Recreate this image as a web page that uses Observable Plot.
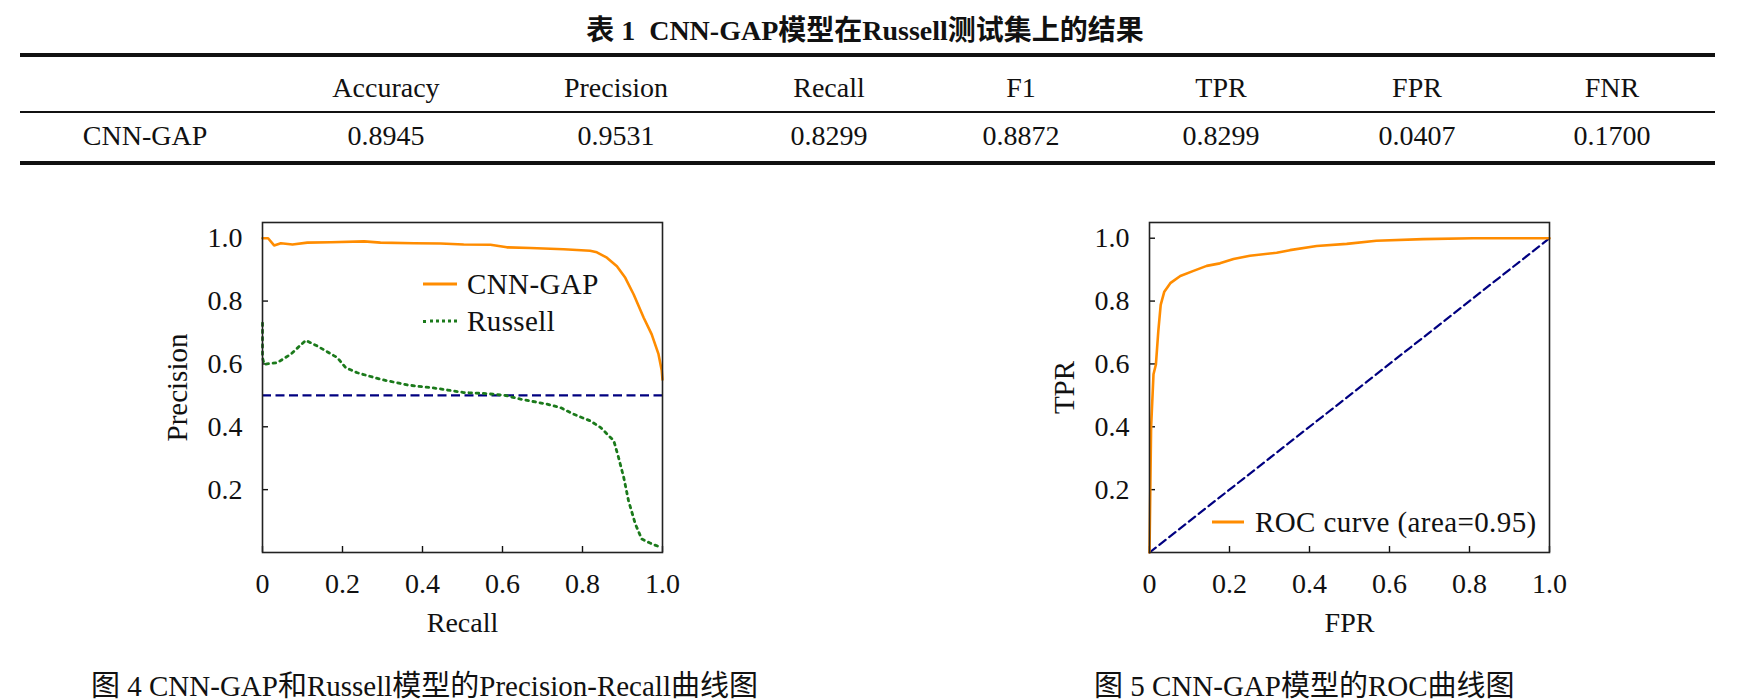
<!DOCTYPE html>
<html>
<head>
<meta charset="utf-8">
<script src="https://cdn.jsdelivr.net/npm/d3@7"></script>
<script src="https://cdn.jsdelivr.net/npm/@observablehq/plot@0.6"></script>
<style>
  html, body { margin: 0; padding: 0; background: #fff; }
  body { width: 1737px; height: 699px; position: relative; overflow: hidden;
         font-family: 'Liberation Serif', 'Noto Sans CJK SC', serif; color: #111; }
  .abs { position: absolute; white-space: pre; }
  .c { transform: translate(-50%, -50%); }
  .l { transform: translate(0, -50%); }
  .rule { position: absolute; background: #111; }
  .cell { font-size: 28px; }
</style>
</head>
<body>
<div id="page"></div>
<script>
// ---------------- data ----------------
const tableTitle = "表 1  CNN-GAP模型在Russell测试集上的结果";
const metricNames = ["Accuracy", "Precision", "Recall", "F1", "TPR", "FPR", "FNR"];
const modelName = "CNN-GAP";
const metricValues = ["0.8945", "0.9531", "0.8299", "0.8872", "0.8299", "0.0407", "0.1700"];

const caption4 = "图 4 CNN-GAP和Russell模型的Precision-Recall曲线图";
const caption5 = "图 5 CNN-GAP模型的ROC曲线图";

const seriesNames = ["CNN-GAP", "Russell"];
const rocLegend = "ROC curve (area=0.95)";

// Precision-Recall: CNN-GAP
const recallCNN = [0, 0.014, 0.029, 0.046, 0.075, 0.112, 0.171, 0.254, 0.295, 0.379, 0.445, 0.503, 0.570, 0.611, 0.670, 0.753, 0.819, 0.836, 0.861, 0.886, 0.907, 0.928, 0.953, 0.973, 0.990, 0.998, 1.0];
const precCNN   = [1.0, 1.0, 0.977, 0.984, 0.980, 0.986, 0.987, 0.990, 0.986, 0.984, 0.983, 0.980, 0.979, 0.971, 0.969, 0.965, 0.960, 0.955, 0.938, 0.911, 0.874, 0.821, 0.747, 0.694, 0.631, 0.580, 0.55];
// Precision-Recall: Russell
const recallRus = [0, 0, 0.004, 0.037, 0.071, 0.108, 0.137, 0.187, 0.208, 0.237, 0.295, 0.362, 0.437, 0.503, 0.553, 0.603, 0.645, 0.711, 0.745, 0.778, 0.819, 0.845, 0.878, 0.890, 0.903, 0.915, 0.932, 0.948, 0.969, 0.994];
const precRus   = [0.73, 0.62, 0.599, 0.604, 0.631, 0.675, 0.657, 0.620, 0.588, 0.572, 0.551, 0.533, 0.522, 0.509, 0.506, 0.501, 0.488, 0.472, 0.461, 0.440, 0.419, 0.398, 0.356, 0.303, 0.239, 0.165, 0.091, 0.043, 0.030, 0.017];
const baseline = 0.5;

// ROC
const fpr = [0, 0.002, 0.004, 0.010, 0.016, 0.022, 0.028, 0.037, 0.052, 0.077, 0.110, 0.143, 0.176, 0.210, 0.251, 0.318, 0.351, 0.418, 0.493, 0.567, 0.684, 0.809, 1.0];
const tpr = [0, 0.197, 0.398, 0.567, 0.598, 0.704, 0.788, 0.830, 0.857, 0.880, 0.896, 0.912, 0.920, 0.934, 0.944, 0.954, 0.962, 0.975, 0.982, 0.992, 0.997, 1.0, 1.0];
const chanceX = [0, 1];
const chanceY = [0, 1];

const xTicks = [0, 0.2, 0.4, 0.6, 0.8, 1.0];
const yTicks = [0.2, 0.4, 0.6, 0.8, 1.0];

// ---------------- style / layout ----------------
const FONT = "'Liberation Serif', 'Noto Sans CJK SC', serif";
const ORANGE = "#ff8c00";
const GREEN = "#1b7a1b";
const NAVY = "#000080";
const colX = [145, 386, 616, 829, 1021, 1221, 1417, 1612];

const page = document.getElementById("page");
function addText(txt, x, y, cls, extra) {
  const d = document.createElement("div");
  d.className = "abs " + cls;
  d.style.left = x + "px"; d.style.top = y + "px";
  if (extra) Object.assign(d.style, extra);
  d.textContent = txt;
  page.appendChild(d);
  return d;
}
function addRule(x, y, w, h) {
  const d = document.createElement("div");
  d.className = "rule";
  d.style.left = x + "px"; d.style.top = y + "px";
  d.style.width = w + "px"; d.style.height = h + "px";
  page.appendChild(d);
}

// Table
addText(tableTitle, 865, 28, "c", {fontSize: "28px", fontWeight: "bold"});
addRule(20, 53, 1695, 3.5);
addRule(20, 111, 1695, 1.6);
addRule(20, 161, 1695, 3.5);
metricNames.forEach((m, i) => addText(m, colX[i + 1], 88, "c cell"));
addText(modelName, colX[0], 136, "c cell");
metricValues.forEach((v, i) => addText(v, colX[i + 1], 136, "c cell"));

// Captions
addText(caption4, 91, 683, "l", {fontSize: "29px"});
addText(caption5, 1094, 683, "l", {fontSize: "29px"});

const fmt = d => d === 0 ? "0" : d.toFixed(1);

function basePlot(marks, xLabel, yLabel) {
  return Plot.plot({
    width: 563, height: 456,
    marginLeft: 122, marginRight: 41, marginTop: 26, marginBottom: 100,
    style: {fontFamily: FONT, fontSize: "28px", color: "#111", background: "transparent", overflow: "visible"},
    x: {domain: [0, 1]},
    y: {domain: [0, 1.05]},
    marks: [
      Plot.axisX(xTicks, {tickSize: -6, tickPadding: 27, tickFormat: fmt, label: null, strokeWidth: 1.4}),
      Plot.axisY(yTicks, {tickSize: -6, tickPadding: 26, tickFormat: fmt, label: null, strokeWidth: 1.4}),
      ...marks,
      Plot.frame({stroke: "#222", strokeWidth: 1.6}),
      Plot.text([xLabel], {text: d => d, frameAnchor: "bottom", lineAnchor: "middle", textAnchor: "middle", dy: 71}),
      Plot.text([yLabel], {text: d => d, frameAnchor: "left", textAnchor: "middle", lineAnchor: "middle", rotate: -90, dx: -85, fontSize: 29})
    ]
  });
}

const leftPlot = basePlot([
  Plot.ruleY([baseline], {stroke: NAVY, strokeWidth: 2.2, strokeDasharray: "9,4.5"}),
  Plot.line(d3.range(recallRus.length), {x: i => recallRus[i], y: i => precRus[i], stroke: GREEN, strokeWidth: 2.8, strokeDasharray: "2.6,4.6"}),
  Plot.line(d3.range(recallCNN.length), {x: i => recallCNN[i], y: i => precCNN[i], stroke: ORANGE, strokeWidth: 2.6})
], "Recall", "Precision");

const rightPlot = basePlot([
  Plot.line(d3.range(chanceX.length), {x: i => chanceX[i], y: i => chanceY[i], stroke: NAVY, strokeWidth: 2.2, strokeDasharray: "8,4.5"}),
  Plot.line(d3.range(fpr.length), {x: i => fpr[i], y: i => tpr[i], stroke: ORANGE, strokeWidth: 2.6})
], "FPR", "TPR");

function place(node, x, y) {
  const w = document.createElement("div");
  w.style.position = "absolute"; w.style.left = x + "px"; w.style.top = y + "px";
  w.appendChild(node);
  page.appendChild(w);
}
place(leftPlot, 140, 196);
place(rightPlot, 1027, 196);

// Legends (HTML overlays)
function legendLine(x, y, w, style) {
  const d = document.createElement("div");
  d.className = "abs";
  d.style.left = x + "px"; d.style.top = y + "px"; d.style.width = w + "px";
  d.style.height = "0px";
  d.style.borderTop = style;
  d.style.transform = "translate(0,-50%)";
  page.appendChild(d);
}
const legendFont = {fontSize: "29px", letterSpacing: "0.4px"};
legendLine(423, 284, 34, "3.5px solid " + ORANGE);
addText(seriesNames[0], 467, 284, "l", legendFont);
legendLine(423, 321, 34, "3.5px dotted " + GREEN);
addText(seriesNames[1], 467, 321, "l", legendFont);
legendLine(1212, 522, 32, "3.5px solid " + ORANGE);
addText(rocLegend, 1255, 522, "l", legendFont);
</script>
</body>
</html>
